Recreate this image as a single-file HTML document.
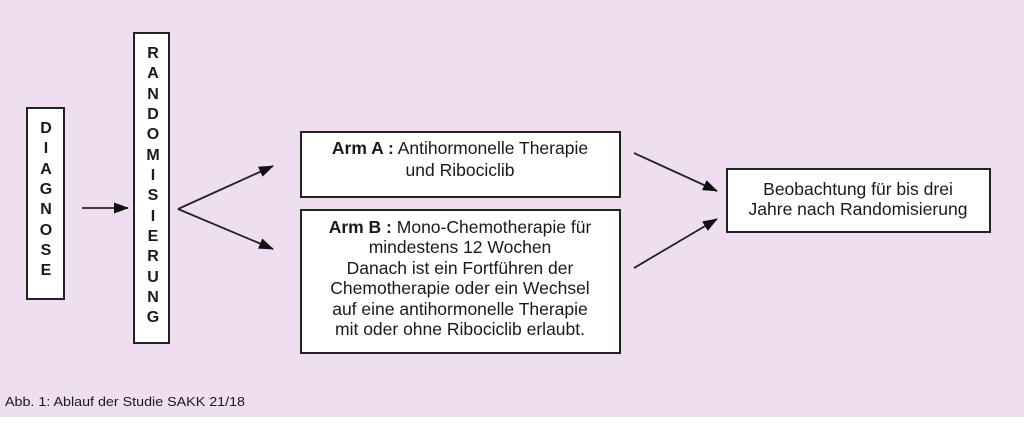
<!DOCTYPE html>
<html><head><meta charset="utf-8"><style>
html,body{margin:0;padding:0;background:#fff;}
svg{display:block;}
text{font-family:"Liberation Sans",Arial,sans-serif;fill:#1a1a1a;}
</style></head><body>
<svg width="1024" height="428" viewBox="0 0 1024 428" xmlns="http://www.w3.org/2000/svg">
<defs><marker id="ah" markerWidth="15" markerHeight="11" refX="14" refY="5.5" orient="auto" markerUnits="userSpaceOnUse"><path d="M0,0 L15,5.5 L0,11 z" fill="#111"/></marker></defs>
<rect x="0" y="0" width="1024" height="417" fill="#efdef0"/>
<g fill="#fff" stroke="#222" stroke-width="2">
<rect x="27" y="108" width="37" height="191"/>
<rect x="134" y="33" width="35" height="310"/>
<rect x="301" y="132" width="319" height="65"/>
<rect x="301" y="210" width="319" height="143"/>
<rect x="727" y="169" width="263" height="63"/>
</g>
<g font-size="16" font-weight="bold" text-anchor="middle">
<text x="46" y="133">D</text><text x="46" y="153">I</text><text x="46" y="174">A</text><text x="46" y="194">G</text><text x="46" y="214">N</text><text x="46" y="235">O</text><text x="46" y="255">S</text><text x="46" y="275">E</text>
<text x="153" y="58">R</text><text x="153" y="78">A</text><text x="153" y="99">N</text><text x="153" y="119">D</text><text x="153" y="139">O</text><text x="153" y="160">M</text><text x="153" y="180">I</text><text x="153" y="200">S</text><text x="153" y="221">I</text><text x="153" y="241">E</text><text x="153" y="261">R</text><text x="153" y="282">U</text><text x="153" y="302">N</text><text x="153" y="322">G</text>
</g>
<g stroke="#222" stroke-width="1.8" fill="none" marker-end="url(#ah)">
<line x1="82" y1="208" x2="128" y2="208"/>
<line x1="178" y1="209" x2="273" y2="166"/>
<line x1="178" y1="209" x2="273" y2="249"/>
<line x1="634" y1="153" x2="717" y2="191"/>
<line x1="634" y1="268" x2="717" y2="219"/>
</g>
<g font-size="17.5" text-anchor="middle">
<text x="460" y="154"><tspan font-weight="bold">Arm A :</tspan> Antihormonelle Therapie</text>
<text x="460" y="176">und Ribociclib</text>
<text x="460" y="233"><tspan font-weight="bold">Arm B :</tspan> Mono-Chemotherapie für</text>
<text x="460" y="253">mindestens 12 Wochen</text>
<text x="460" y="274">Danach ist ein Fortführen der</text>
<text x="460" y="294">Chemotherapie oder ein Wechsel</text>
<text x="460" y="315">auf eine antihormonelle Therapie</text>
<text x="460" y="335">mit oder ohne Ribociclib erlaubt.</text>
<text x="858" y="195">Beobachtung für bis drei</text>
<text x="858" y="215">Jahre nach Randomisierung</text>
</g>
<text x="5" y="406" font-size="13" textLength="240" lengthAdjust="spacingAndGlyphs">Abb. 1: Ablauf der Studie SAKK 21/18</text>
</svg>
</body></html>
